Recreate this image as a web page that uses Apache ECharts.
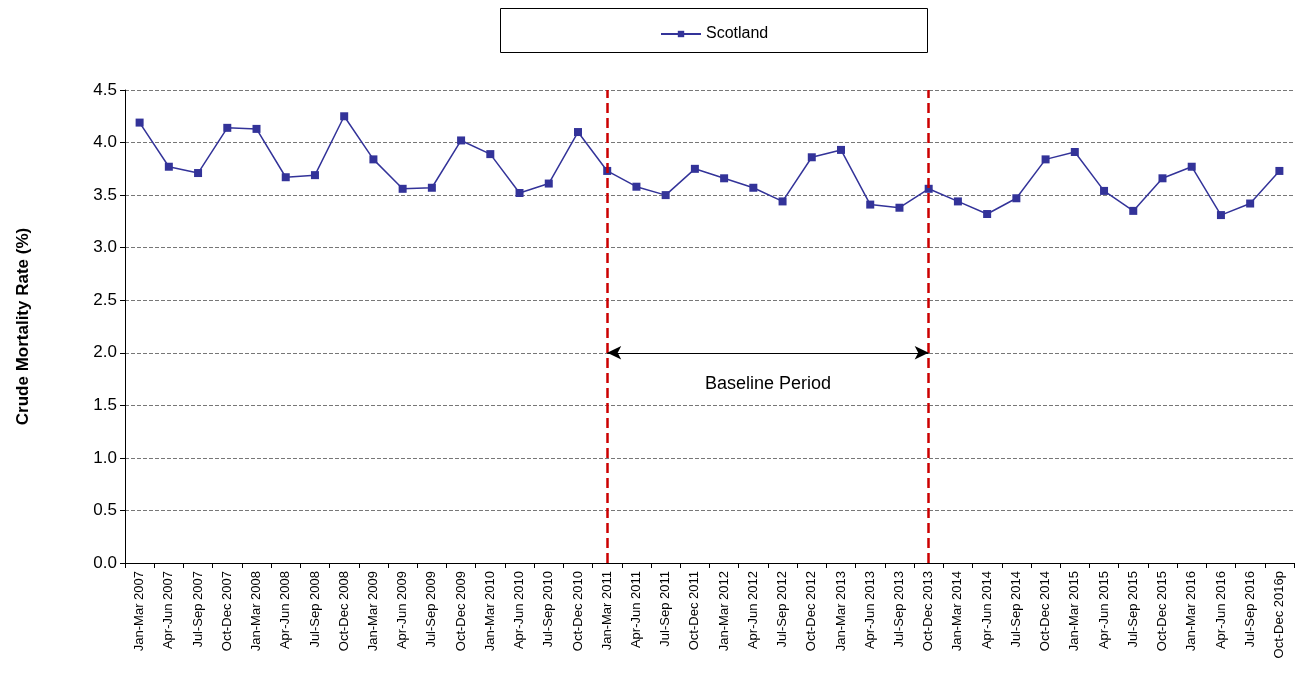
<!DOCTYPE html>
<html><head><meta charset="utf-8">
<script src="https://cdn.jsdelivr.net/npm/echarts@6/dist/echarts.min.js"></script>
<style>html,body{margin:0;padding:0;background:#fff}#c{width:1296px;height:687px}</style>
</head><body><div id="c"></div>
<script>
const categories = ["Jan-Mar 2007","Apr-Jun 2007","Jul-Sep 2007","Oct-Dec 2007","Jan-Mar 2008","Apr-Jun 2008","Jul-Sep 2008","Oct-Dec 2008","Jan-Mar 2009","Apr-Jun 2009","Jul-Sep 2009","Oct-Dec 2009","Jan-Mar 2010","Apr-Jun 2010","Jul-Sep 2010","Oct-Dec 2010","Jan-Mar 2011","Apr-Jun 2011","Jul-Sep 2011","Oct-Dec 2011","Jan-Mar 2012","Apr-Jun 2012","Jul-Sep 2012","Oct-Dec 2012","Jan-Mar 2013","Apr-Jun 2013","Jul-Sep 2013","Oct-Dec 2013","Jan-Mar 2014","Apr-Jun 2014","Jul-Sep 2014","Oct-Dec 2014","Jan-Mar 2015","Apr-Jun 2015","Jul-Sep 2015","Oct-Dec 2015","Jan-Mar 2016","Apr-Jun 2016","Jul-Sep 2016","Oct-Dec 2016p"];
const scotland = [4.19,3.77,3.71,4.14,4.13,3.67,3.69,4.25,3.84,3.56,3.57,4.02,3.89,3.52,3.61,4.10,3.73,3.58,3.50,3.75,3.66,3.57,3.44,3.86,3.93,3.41,3.38,3.56,3.44,3.32,3.47,3.84,3.91,3.54,3.35,3.66,3.77,3.31,3.42,3.73];
const baselineStart = "Jan-Mar 2011", baselineEnd = "Oct-Dec 2013";
const chart = echarts.init(document.getElementById('c'));
const F = 'Liberation Sans, Arial, sans-serif';
chart.setOption({
  animation:false,
  textStyle:{fontFamily:F},
  graphic:[{type:'rect',left:500,top:8,shape:{width:427,height:44},style:{fill:'#fff',stroke:'#000',lineWidth:1},z:-1}],
  legend:{top:21,left:655,itemWidth:40,itemHeight:8,
    data:['Scotland'],textStyle:{fontSize:16,color:'#000',fontFamily:F}},
  grid:{left:125,right:2,top:90,bottom:124},
  xAxis:{type:'category',data:categories,boundaryGap:true,
    axisLine:{lineStyle:{color:'#000'}},axisTick:{show:true,interval:0,lineStyle:{color:'#000'}},
    axisLabel:{interval:0,rotate:90,fontSize:13,color:'#000',fontFamily:F}},
  yAxis:{type:'value',min:0,max:4.5,interval:0.5,
    name:'Crude Mortality Rate (%)',nameLocation:'middle',nameGap:93,nameTextStyle:{fontSize:17,fontWeight:'bold',color:'#000',fontFamily:F},
    axisLine:{show:true,lineStyle:{color:'#000'}},axisTick:{show:true,lineStyle:{color:'#000'}},
    axisLabel:{fontSize:17,color:'#000',formatter:v=>v.toFixed(1),fontFamily:F},
    splitLine:{lineStyle:{color:'#777',type:'dashed'}}},
  series:[{name:'Scotland',type:'line',data:scotland,symbol:'rect',symbolSize:8,
    itemStyle:{color:'#333399'},lineStyle:{color:'#333399',width:1.5},
    markLine:{silent:true,symbol:['none','none'],label:{show:false},
      data:[
        {xAxis:baselineStart,lineStyle:{color:'#cc0000',type:'dashed',width:2.5}},
        {xAxis:baselineEnd,lineStyle:{color:'#cc0000',type:'dashed',width:2.5}},
        [{coord:[baselineStart,2.0],symbol:'arrow',symbolSize:[10,14],lineStyle:{color:'#000',type:'solid',width:1}},
         {coord:[baselineEnd,2.0],symbol:'arrow',symbolSize:[10,14],
          label:{show:true,position:'middle',formatter:'Baseline Period',color:'#000',fontSize:18,distance:[0,-40]}}]
      ]}
  }]
});
</script></body></html>
